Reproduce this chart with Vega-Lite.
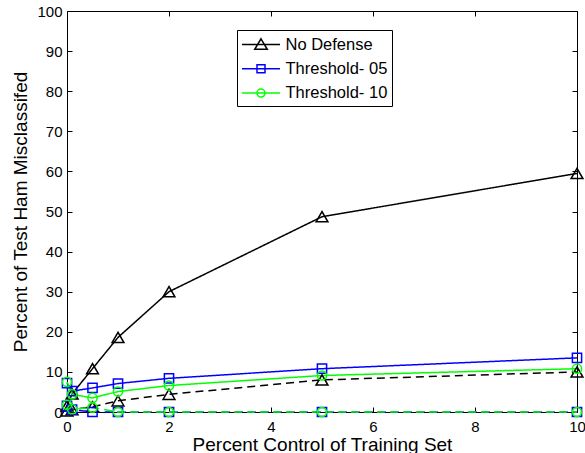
{
  "$schema": "https://vega.github.io/schema/vega-lite/v6.json",
  "width": 510,
  "height": 401,
  "autosize": {"type": "none"},
  "padding": {"left": 67, "top": 11, "right": 8, "bottom": 41},
  "background": "white",
  "data": {
    "values": [
      {"x": 0, "y": 1.5, "series": "No Defense", "style": "solid"},
      {"x": 0.1, "y": 4.5, "series": "No Defense", "style": "solid"},
      {"x": 0.5, "y": 10.8, "series": "No Defense", "style": "solid"},
      {"x": 1, "y": 18.6, "series": "No Defense", "style": "solid"},
      {"x": 2, "y": 30.0, "series": "No Defense", "style": "solid"},
      {"x": 5, "y": 48.7, "series": "No Defense", "style": "solid"},
      {"x": 10, "y": 59.5, "series": "No Defense", "style": "solid"},
      {"x": 0, "y": 0.3, "series": "No Defense", "style": "dashed"},
      {"x": 0.1, "y": 0.6, "series": "No Defense", "style": "dashed"},
      {"x": 0.5, "y": 1.3, "series": "No Defense", "style": "dashed"},
      {"x": 1, "y": 2.8, "series": "No Defense", "style": "dashed"},
      {"x": 2, "y": 4.4, "series": "No Defense", "style": "dashed"},
      {"x": 5, "y": 8.0, "series": "No Defense", "style": "dashed"},
      {"x": 10, "y": 10.0, "series": "No Defense", "style": "dashed"},
      {"x": 0, "y": 7.2, "series": "Threshold- 05", "style": "solid"},
      {"x": 0.1, "y": 5.2, "series": "Threshold- 05", "style": "solid"},
      {"x": 0.5, "y": 6.0, "series": "Threshold- 05", "style": "solid"},
      {"x": 1, "y": 7.1, "series": "Threshold- 05", "style": "solid"},
      {"x": 2, "y": 8.4, "series": "Threshold- 05", "style": "solid"},
      {"x": 5, "y": 10.8, "series": "Threshold- 05", "style": "solid"},
      {"x": 10, "y": 13.5, "series": "Threshold- 05", "style": "solid"},
      {"x": 0, "y": 1.5, "series": "Threshold- 05", "style": "dashed"},
      {"x": 0.1, "y": 0.6, "series": "Threshold- 05", "style": "dashed"},
      {"x": 0.5, "y": 0, "series": "Threshold- 05", "style": "dashed"},
      {"x": 1, "y": 0, "series": "Threshold- 05", "style": "dashed"},
      {"x": 2, "y": 0, "series": "Threshold- 05", "style": "dashed"},
      {"x": 5, "y": 0, "series": "Threshold- 05", "style": "dashed"},
      {"x": 10, "y": 0, "series": "Threshold- 05", "style": "dashed"},
      {"x": 0, "y": 7.5, "series": "Threshold- 10", "style": "solid"},
      {"x": 0.1, "y": 4.4, "series": "Threshold- 10", "style": "solid"},
      {"x": 0.5, "y": 3.5, "series": "Threshold- 10", "style": "solid"},
      {"x": 1, "y": 5.1, "series": "Threshold- 10", "style": "solid"},
      {"x": 2, "y": 6.6, "series": "Threshold- 10", "style": "solid"},
      {"x": 5, "y": 9.1, "series": "Threshold- 10", "style": "solid"},
      {"x": 10, "y": 10.8, "series": "Threshold- 10", "style": "solid"},
      {"x": 0, "y": 1.8, "series": "Threshold- 10", "style": "dashed"},
      {"x": 0.1, "y": 0.7, "series": "Threshold- 10", "style": "dashed"},
      {"x": 0.5, "y": 1.1, "series": "Threshold- 10", "style": "dashed"},
      {"x": 1, "y": 0, "series": "Threshold- 10", "style": "dashed"},
      {"x": 2, "y": 0, "series": "Threshold- 10", "style": "dashed"},
      {"x": 5, "y": 0, "series": "Threshold- 10", "style": "dashed"},
      {"x": 10, "y": 0, "series": "Threshold- 10", "style": "dashed"}
    ]
  },
  "layer": [
    {
      "mark": {"type": "line", "strokeWidth": 1.5},
      "encoding": {
        "x": {
          "field": "x", "type": "quantitative",
          "scale": {"domain": [0, 10], "nice": false, "zero": false},
          "axis": {
            "orient": "bottom",
            "title": "Percent Control of Training Set",
            "values": [0, 2, 4, 6, 8, 10],
            "format": "d",
            "tickSize": -5,
            "labelPadding": 12,
            "titlePadding": 1
          }
        },
        "y": {
          "field": "y", "type": "quantitative",
          "scale": {"domain": [0, 100], "nice": false, "zero": false},
          "axis": {
            "orient": "left",
            "title": "Percent of Test Ham Misclassifed",
            "values": [0, 10, 20, 30, 40, 50, 60, 70, 80, 90, 100],
            "format": "d",
            "tickSize": -5,
            "labelPadding": 10,
            "titlePadding": 6
          }
        },
        "color": {
          "field": "series", "type": "nominal",
          "scale": {"domain": ["No Defense", "Threshold- 05", "Threshold- 10"], "range": ["#000000", "#0000ff", "#00ff00"]},
          "legend": {"title": null, "orient": "none", "legendX": 170, "legendY": 19, "symbolOpacity": 1, "labelExpr": "datum.label + '\u00a0\u00a0\u00a0'"}
        },
        "strokeDash": {
          "field": "style", "type": "nominal",
          "scale": {"domain": ["solid", "dashed"], "range": [[1, 0], [8, 5]]},
          "legend": null
        },
        "detail": {"field": "style"}
      }
    },
    {
      "mark": {"type": "point", "filled": false, "opacity": 0, "strokeWidth": 1.5},
      "encoding": {
        "x": {
          "field": "x", "type": "quantitative",
          "scale": {"domain": [0, 10], "nice": false, "zero": false},
          "axis": {
            "orient": "top",
            "title": null,
            "labels": false,
            "values": [0, 2, 4, 6, 8, 10],
            "tickSize": -5
          }
        },
        "y": {
          "field": "y", "type": "quantitative",
          "scale": {"domain": [0, 100], "nice": false, "zero": false},
          "axis": {
            "orient": "right",
            "title": null,
            "labels": false,
            "values": [0, 10, 20, 30, 40, 50, 60, 70, 80, 90, 100],
            "tickSize": -5
          }
        },
        "color": {
          "field": "series", "type": "nominal",
          "scale": {"domain": ["No Defense", "Threshold- 05", "Threshold- 10"], "range": ["#000000", "#0000ff", "#00ff00"]},
          "legend": {"title": null, "orient": "none", "legendX": 170, "legendY": 19, "symbolOpacity": 1, "labelExpr": "datum.label + '\u00a0\u00a0\u00a0'"}
        },
        "shape": {
          "field": "series", "type": "nominal",
          "scale": {
            "domain": ["No Defense", "Threshold- 05", "Threshold- 10"],
            "range": [
              "M-1,0H3M1,-0.6L1.66,0.5L0.34,0.5Z",
              "M-1,0H3M0.58,-0.42H1.42V0.42H0.58Z",
              "M-1,0H3M1.42,0A0.42,0.42 0 1,1 0.58,0A0.42,0.42 0 1,1 1.42,0Z"
            ]
          },
          "legend": {"title": null, "orient": "none", "legendX": 170, "legendY": 19, "symbolOpacity": 1, "labelExpr": "datum.label + '\u00a0\u00a0\u00a0'"}
        }
      }
    },
    {
      "transform": [{"filter": "datum.series === 'No Defense'"}],
      "mark": {"type": "point", "shape": "triangle-up", "filled": false, "opacity": 1, "strokeWidth": 1.5, "size": 140},
      "encoding": {
        "x": {"field": "x", "type": "quantitative", "scale": {"domain": [0, 10], "nice": false, "zero": false}, "axis": null},
        "y": {"field": "y", "type": "quantitative", "scale": {"domain": [0, 100], "nice": false, "zero": false}, "axis": null},
        "color": {
          "field": "series", "type": "nominal",
          "scale": {"domain": ["No Defense", "Threshold- 05", "Threshold- 10"], "range": ["#000000", "#0000ff", "#00ff00"]},
          "legend": {"title": null, "orient": "none", "legendX": 170, "legendY": 19, "symbolOpacity": 1, "labelExpr": "datum.label + '\u00a0\u00a0\u00a0'"}
        }
      }
    },
    {
      "transform": [{"filter": "datum.series === 'Threshold- 05'"}],
      "mark": {"type": "point", "shape": "square", "filled": false, "opacity": 1, "strokeWidth": 1.5, "size": 85},
      "encoding": {
        "x": {"field": "x", "type": "quantitative", "scale": {"domain": [0, 10], "nice": false, "zero": false}, "axis": null},
        "y": {"field": "y", "type": "quantitative", "scale": {"domain": [0, 100], "nice": false, "zero": false}, "axis": null},
        "color": {
          "field": "series", "type": "nominal",
          "scale": {"domain": ["No Defense", "Threshold- 05", "Threshold- 10"], "range": ["#000000", "#0000ff", "#00ff00"]},
          "legend": {"title": null, "orient": "none", "legendX": 170, "legendY": 19, "symbolOpacity": 1, "labelExpr": "datum.label + '\u00a0\u00a0\u00a0'"}
        }
      }
    },
    {
      "transform": [{"filter": "datum.series === 'Threshold- 10'"}],
      "mark": {"type": "point", "shape": "circle", "filled": false, "opacity": 1, "strokeWidth": 1.5, "size": 85},
      "encoding": {
        "x": {"field": "x", "type": "quantitative", "scale": {"domain": [0, 10], "nice": false, "zero": false}, "axis": null},
        "y": {"field": "y", "type": "quantitative", "scale": {"domain": [0, 100], "nice": false, "zero": false}, "axis": null},
        "color": {
          "field": "series", "type": "nominal",
          "scale": {"domain": ["No Defense", "Threshold- 05", "Threshold- 10"], "range": ["#000000", "#0000ff", "#00ff00"]},
          "legend": {"title": null, "orient": "none", "legendX": 170, "legendY": 19, "symbolOpacity": 1, "labelExpr": "datum.label + '\u00a0\u00a0\u00a0'"}
        }
      }
    }
  ],
  "resolve": {"axis": {"x": "independent", "y": "independent"}},
  "config": {
    "view": {"stroke": null},
    "font": "Liberation Sans",
    "axis": {
      "grid": false,
      "domainColor": "#000000",
      "domainWidth": 1,
      "tickColor": "#000000",
      "tickWidth": 1,
      "labelColor": "#000000",
      "labelFont": "Liberation Sans",
      "labelFontSize": 15,
      "labelFlush": false,
      "labelOverlap": false,
      "titleFont": "Liberation Sans",
      "titleFontSize": 19,
      "titleFontWeight": "normal",
      "titleColor": "#000000"
    },
    "legend": {
      "strokeColor": "#000000",
      "fillColor": "#ffffff",
      "padding": 4,
      "symbolSize": 361,
      "symbolStrokeWidth": 1.5,
      "symbolFillColor": "transparent",
      "labelFont": "Liberation Sans",
      "labelFontSize": 16.5,
      "labelColor": "#000000",
      "labelOffset": 23.5,
      "rowPadding": 5.3,
      "labelLimit": 300
    }
  }
}
